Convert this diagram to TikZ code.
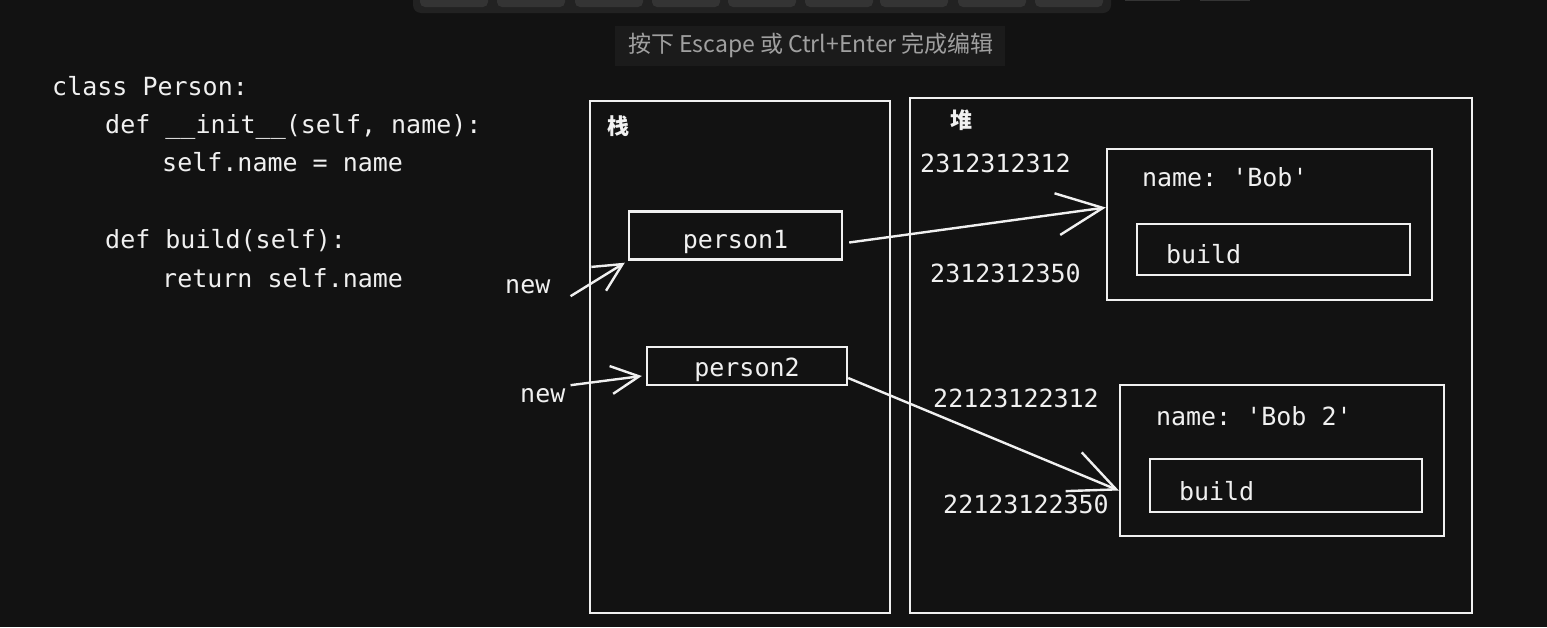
\documentclass[tikz,border=0pt]{standalone}
\usepackage{fontspec}
\usepackage{tikz}
\usepackage{xcolor}
\usetikzlibrary{calc}
\usetikzlibrary{arrows.meta}
\setmonofont{DejaVu Sans Mono}
\newfontfamily\cjk{Noto Sans CJK SC}
\definecolor{bgcol}{RGB}{18,18,18}
\definecolor{barcol}{RGB}{34,34,34}
\definecolor{btncol}{RGB}{52,52,52}
\definecolor{hintbg}{RGB}{27,27,27}
\definecolor{hintcol}{RGB}{160,160,160}
\colorlet{lcol}{white!94!black}
\newcommand{\hand}{\ttfamily\fontsize{25}{30}\selectfont}
\newcommand{\button}{++(0,-10) rectangle ++(68,17)}

\begin{document}
\begin{tikzpicture}[x=1pt,y=-1pt]
\tikzstyle{box}=[draw=lcol, line width=2.4pt, inner sep=0pt]
\tikzstyle{code}=[anchor=base west, text=lcol, font=\hand, inner sep=0pt]
\tikzstyle{label}=[anchor=center, text=lcol, font=\cjk\bfseries\fontsize{22}{24}\selectfont, inner sep=0pt]
\tikzstyle{arrow}=[line width=2.4pt, lcol, -{Straight Barb[length=46pt,width=42pt]}]
\tikzstyle{newarrow}=[line width=2.4pt, lcol, -{Straight Barb[length=28pt,width=28pt]}]
\tikzstyle{btn}=[fill=btncol, rounded corners=5pt]

\fill[bgcol] (0,0) rectangle (1547,627);
\useasboundingbox (0,0) rectangle (1547,627);

% toolbar and hint of the editor
\fill[barcol, rounded corners=8pt] (413,-12) rectangle (1111,13);
\fill[btn] (420,0) \button;
\fill[btn] (497,0) \button;
\fill[btn] (575,0) \button;
\fill[btn] (652,0) \button;
\fill[btn] (728,0) \button;
\fill[btn] (805,0) \button;
\fill[btn] (880,0) \button;
\fill[btn] (958,0) \button;
\fill[btn] (1035,0) \button;
\fill[btncol] (1125,-5) rectangle (1180,1);
\fill[btncol] (1200,-5) rectangle (1250,1);
\fill[hintbg] (615,26) rectangle (1005,66);
\node[text=hintcol, font=\cjk\fontsize{23}{26}\selectfont] (hint) at (811,45) {按下 Escape 或 Ctrl+Enter 完成编辑};

% the class
\node[code] (c1) at (52,95) {class Person:};
\node[code] (c2) at (105,133) {def \_\_init\_\_(self, name):};
\node[code] (c3) at (162,171) {self.name = name};
\node[code] (c4) at (105,248) {def build(self):};
\node[code] (c5) at (162,287) {return self.name};

% stack
\node[box, minimum width=300, minimum height=512] (stack) at (740,357) {};
\node[label] (stacklbl) at ($(stack.north west)+(30,26)$) {栈};
\node[box, minimum width=213, minimum height=48, text=lcol, font=\hand] (p1) at (735.5,235.5) {\raisebox{-13pt}[0pt][0pt]{person1}};
\node[box, minimum width=200, minimum height=38, text=lcol, font=\hand] (p2) at (747,366) {\raisebox{-10pt}[0pt][0pt]{person2}};
\node[code] (new1) at (505,293) {new};
\node[code] (new2) at (520,402) {new};

% heap
\node[box, minimum width=562, minimum height=515] (heap) at (1191,355.5) {};
\node[label] (heaplbl) at ($(heap.north west)+(53,23)$) {堆};

\node[box, minimum width=325, minimum height=151] (obj1) at (1269.5,224.5) {};
\node[code] (name1) at ($(obj1.north west)+(36,39)$) {name: 'Bob'};
\node[box, minimum width=273, minimum height=51] (build1) at (1273.5,249.5) {};
\node[code] (b1) at ($(build1.west)+(30,14)$) {build};

\node[box, minimum width=324, minimum height=151] (obj2) at (1282,460.5) {};
\node[code] (name2) at ($(obj2.north west)+(37,42)$) {name: 'Bob 2'};
\node[box, minimum width=272, minimum height=53] (build2) at (1286,485.5) {};
\node[code] (b2) at ($(build2.west)+(30,14.5)$) {build};

% addresses
\node[code] (a1) at (920,172) {2312312312};
\node[code] (a2) at (930,282) {2312312350};
\node[code] (a3) at (933,407) {22123122312};
\node[code] (a4) at (943,513) {22123122350};

% references
\draw[newarrow] ($(new1.east)+(20,10)$) -- ($(p1.south west)+(-3,2)$);
\draw[newarrow] ($(new2.east)+(5,-10)$) -- ($(p2.west)+(-4,10)$);
\draw[arrow] ($(p1.east)+(6,7)$) -- ($(obj1.west)+(0,-17)$);
\draw[arrow] ($(p2.east)+(0,12)$) -- ($(obj2.west)+(0,30)$);
\end{tikzpicture}
\end{document}
